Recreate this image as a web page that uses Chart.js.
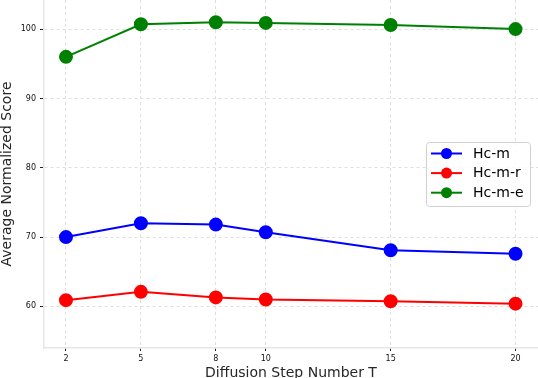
<!DOCTYPE html>
<html>
<head>
<meta charset="utf-8">
<script src="https://cdn.jsdelivr.net/npm/chart.js@4.4.1/dist/chart.umd.min.js"></script>
<style>
html, body { margin: 0; padding: 0; background: #fff; overflow: hidden; }
</style>
</head>
<body>
<canvas id="chart" width="538" height="378"></canvas>
<script>
// diffusion steps on x, scores on y
const steps = [2, 5, 8, 10, 15, 20];
const hcM = [70.0, 72.0, 71.8, 70.7, 68.1, 67.6];
const hcMR = [60.9, 62.1, 61.3, 61.0, 60.75, 60.4];
const hcME = [96.0, 100.7, 101.0, 100.9, 100.6, 100.0];
const seriesNames = ['Hc-m', 'Hc-m-r', 'Hc-m-e'];
const seriesColors = ['#0000ff', '#ff0000', '#008000'];
const yTicks = [60, 70, 80, 90, 100];

const FONT = '"DejaVu Sans", sans-serif';

function toPoints(vals) {
    return steps.map((s, i) => ({ x: s, y: vals[i] }));
}

function makeSet(name, color, vals) {
    return {
        label: name,
        data: toPoints(vals),
        borderColor: color,
        backgroundColor: color,
        pointBackgroundColor: color,
        pointBorderColor: color,
        borderWidth: 2,
        pointRadius: 6,
        pointHoverRadius: 6,
        tension: 0
    };
}

// legend drawn inside the plot (line + marker), centered on the right
const boxLegend = {
    id: 'boxLegend',
    afterDraw(chart) {
        const { ctx, chartArea } = chart;
        const sets = chart.data.datasets;
        const w = 104, h = 64, rowH = 19.6;
        const x0 = Math.round(chartArea.right - 8 - w);
        const y0 = Math.round((chartArea.top + chartArea.bottom) / 2 - h / 2);
        ctx.save();
        ctx.fillStyle = 'rgba(255,255,255,0.85)';
        ctx.strokeStyle = '#d0d0d0';
        ctx.lineWidth = 1;
        ctx.beginPath();
        ctx.roundRect(x0 + 0.5, y0 + 0.5, w, h, 3);
        ctx.fill();
        ctx.stroke();
        ctx.font = '14px ' + FONT;
        ctx.textBaseline = 'middle';
        sets.forEach((ds, i) => {
            const cy = y0 + 11.5 + i * rowH;
            ctx.strokeStyle = ds.borderColor;
            ctx.lineWidth = 2;
            ctx.beginPath();
            ctx.moveTo(x0 + 5, cy);
            ctx.lineTo(x0 + 36, cy);
            ctx.stroke();
            ctx.fillStyle = ds.borderColor;
            ctx.beginPath();
            ctx.arc(x0 + 20.5, cy, 5.5, 0, Math.PI * 2);
            ctx.fill();
            ctx.fillStyle = '#000';
            ctx.fillText(ds.label, x0 + 47, cy + 0.5);
        });
        ctx.restore();
    }
};

new Chart(document.getElementById('chart'), {
    type: 'line',
    data: {
        datasets: [
            makeSet(seriesNames[0], seriesColors[0], hcM),
            makeSet(seriesNames[1], seriesColors[1], hcMR),
            makeSet(seriesNames[2], seriesColors[2], hcME)
        ]
    },
    options: {
        responsive: false,
        animation: false,
        clip: false,
        layout: { padding: 0, autoPadding: false },
        plugins: {
            legend: { display: false },
            tooltip: { enabled: false }
        },
        scales: {
            x: {
                type: 'linear',
                min: 1.12,
                max: 20.9,
                afterBuildTicks: s => { s.ticks = steps.map(v => ({ value: v })); },
                afterFit: s => { s.height = 30; s.paddingLeft = 0; s.paddingRight = 0; },
                grid: { color: '#d6d6d6', lineWidth: 0.8, tickLength: 3, tickColor: '#222', tickWidth: 1 },
                border: { display: true, color: '#e6e6e6', width: 1.5, dash: [3, 3] },
                ticks: { font: { family: FONT, size: 8 }, color: '#111', padding: 3, maxRotation: 0 },
                title: {
                    display: true,
                    text: 'Diffusion Step Number T',
                    font: { family: FONT, size: 14, lineHeight: 1 },
                    color: '#262626',
                    padding: { top: 0, bottom: -2 }
                }
            },
            y: {
                min: 54,
                max: 104.2,
                afterBuildTicks: s => { s.ticks = yTicks.map(v => ({ value: v })); },
                afterFit: s => { s.width = 44; s.paddingTop = 0; s.paddingBottom = 0; },
                grid: { color: '#d6d6d6', lineWidth: 0.8, tickLength: 4, tickColor: '#222', tickWidth: 1 },
                border: { display: true, color: '#e6e6e6', width: 1.5, dash: [3, 3] },
                ticks: { font: { family: FONT, size: 8 }, color: '#111', padding: 4 },
                title: {
                    display: true,
                    text: 'Average Normalized Score',
                    font: { family: FONT, size: 14, lineHeight: 1 },
                    color: '#262626',
                    padding: { top: 0, bottom: 0 }
                }
            }
        }
    },
    plugins: [boxLegend]
});
</script>
</body>
</html>
